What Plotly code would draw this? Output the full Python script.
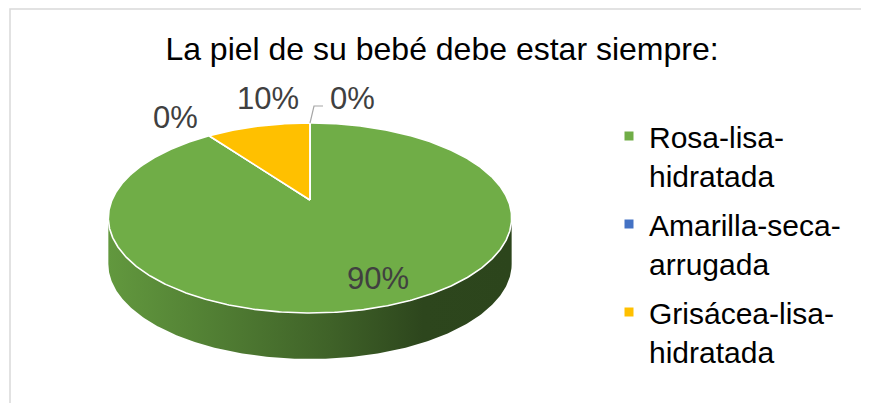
import numpy as np
import plotly.graph_objects as go

# ---------------- data ----------------
title_text = "La piel de su bebé debe estar siempre:"
categories = ["Rosa-lisa-hidratada", "Amarilla-seca-arrugada", "Grisácea-lisa-hidratada", ""]
values = [90, 0, 10, 0]
colors = ["#70ad47", "#4472c4", "#ffc000", "#a5a5a5"]

# ---------------- geometry / style ----------------
# the page body has an 8px margin: the figure is placed at (8, 8)
OFF = 8
W, H = 869 - OFF, 412 - 2 * OFF
CX, CY = 310.0, 200.0      # apex of the top face (page pixels)
RX, RY = 198.0, 91.6       # radii of the top face
K = -0.1895                # perspective factor
D = 46.0                   # thickness of the pie
FONT = "Liberation Sans, Arial, sans-serif"

# label placement: (radius factor, dx, dy) relative to projected point
label_style = [
    (0.80, 11, -3),     # inside label
    (1.00, -34, -18),
    (1.00, 10, -28),
    (1.00, 42, -24),
]
leader_for = [False, False, False, True]


def px_x(x):
    return (x - OFF) / W


def px_y(y):
    return 1 - (y - OFF) / H


def proj(t_deg, r=1.0, dz=0.0):
    t = np.radians(t_deg)
    u = r * np.sin(t)
    v = -r * np.cos(t)
    d = 1 + K * v
    return CX + RX * u / d, CY + RY * v / d + dz


def shade(hexc, f):
    h = hexc.lstrip("#")
    r, g, b = (int(h[i:i + 2], 16) for i in (0, 2, 4))
    return "rgb(%d,%d,%d)" % (r * f, g * f, b * f)


total = float(sum(values))
angles = np.cumsum([0] + [v / total * 360.0 for v in values])

fig = go.Figure()

# chart-area border: only its top and left edges fall inside the view
fig.add_trace(go.Scatter(
    x=[10, 10, OFF + W - 1], y=[OFF + H - 1, 9, 9], mode="lines",
    line=dict(color="#d9d9d9", width=1.5),
    hoverinfo="skip", showlegend=False))

# visible side range (between the horizontal extremes of the top face)
T1 = np.degrees(np.arccos(K))
T2 = 360.0 - T1

# ---- side walls ----
for i, c in enumerate(colors):
    a0, a1 = angles[i], angles[i + 1]
    s0, s1 = max(a0, T1), min(a1, T2)
    if s1 <= s0:
        continue
    ts = np.linspace(s0, s1, 240)
    xt, yt = proj(ts)
    xb, yb = proj(ts[::-1], dz=D)
    xs = np.concatenate([xt, xb, xt[:1]])
    ys = np.concatenate([yt, yb, yt[:1]])
    fig.add_trace(go.Scatter(
        x=xs, y=ys, mode="lines", fill="toself",
        line=dict(width=0, color=shade(c, 0.5)),
        fillgradient=dict(type="horizontal", colorscale=[
            [0.0, shade(c, 0.88)], [0.25, shade(c, 0.74)],
            [0.55, shade(c, 0.57)], [0.78, shade(c, 0.41)],
            [1.0, shade(c, 0.40)]]),
        hoverinfo="skip", showlegend=False))

# ---- top face slices ----
for i, c in enumerate(colors):
    a0, a1 = angles[i], angles[i + 1]
    n = max(2, int((a1 - a0) * 2) + 2)
    ts = np.linspace(a0, a1, n)
    xr, yr = proj(ts)
    xs = np.concatenate([[CX], xr, [CX]])
    ys = np.concatenate([[CY], yr, [CY]])
    fig.add_trace(go.Scatter(
        x=xs, y=ys, mode="lines", fill="toself", fillcolor=c,
        line=dict(color="white", width=1.6),
        hoverinfo="skip", showlegend=False))

# ---- legend entries ----
for i, (name, c) in enumerate(zip(categories, colors)):
    if not name:
        continue
    head, tail = name.rsplit("-", 1)
    fig.add_trace(go.Scatter(
        x=[None], y=[None], mode="markers",
        marker=dict(symbol="square", size=9, color=c),
        name=head + "-<br>" + tail, legendgroup=str(i)))

# ---- data labels ----
annotations = []
for i, v in enumerate(values):
    mid = (angles[i] + angles[i + 1]) / 2.0
    r, dx, dy = label_style[i]
    px, py = proj(mid, r=r)
    annotations.append(dict(
        x=px + dx, y=py + dy, xref="x", yref="y", showarrow=False,
        text="%d%%" % round(v / total * 100),
        font=dict(family=FONT, size=31, color="#404040"),
        xanchor="center", yanchor="middle"))
    if leader_for[i]:
        fig.add_trace(go.Scatter(
            x=[px, px + 4, px + 13], y=[py, py - 17, py - 17],
            mode="lines", line=dict(color="#a6a6a6", width=1.2),
            hoverinfo="skip", showlegend=False))

fig.update_layout(
    width=W, height=H,
    margin=dict(l=0, r=0, t=0, b=0),
    paper_bgcolor="white", plot_bgcolor="white",
    title=dict(text=title_text, x=px_x(442), xanchor="center",
               y=px_y(49), yanchor="middle",
               font=dict(family=FONT, size=32, color="#000000")),
    xaxis=dict(range=[OFF, OFF + W], visible=False, fixedrange=True),
    yaxis=dict(range=[OFF + H, OFF], visible=False, fixedrange=True),
    showlegend=True,
    legend=dict(x=px_x(609), y=px_y(110), xanchor="left", yanchor="top",
                font=dict(family=FONT, size=30, color="#000000"),
                valign="top", tracegroupgap=7, bgcolor="rgba(0,0,0,0)"),
    annotations=annotations,
)

fig.write_html("out.html")
